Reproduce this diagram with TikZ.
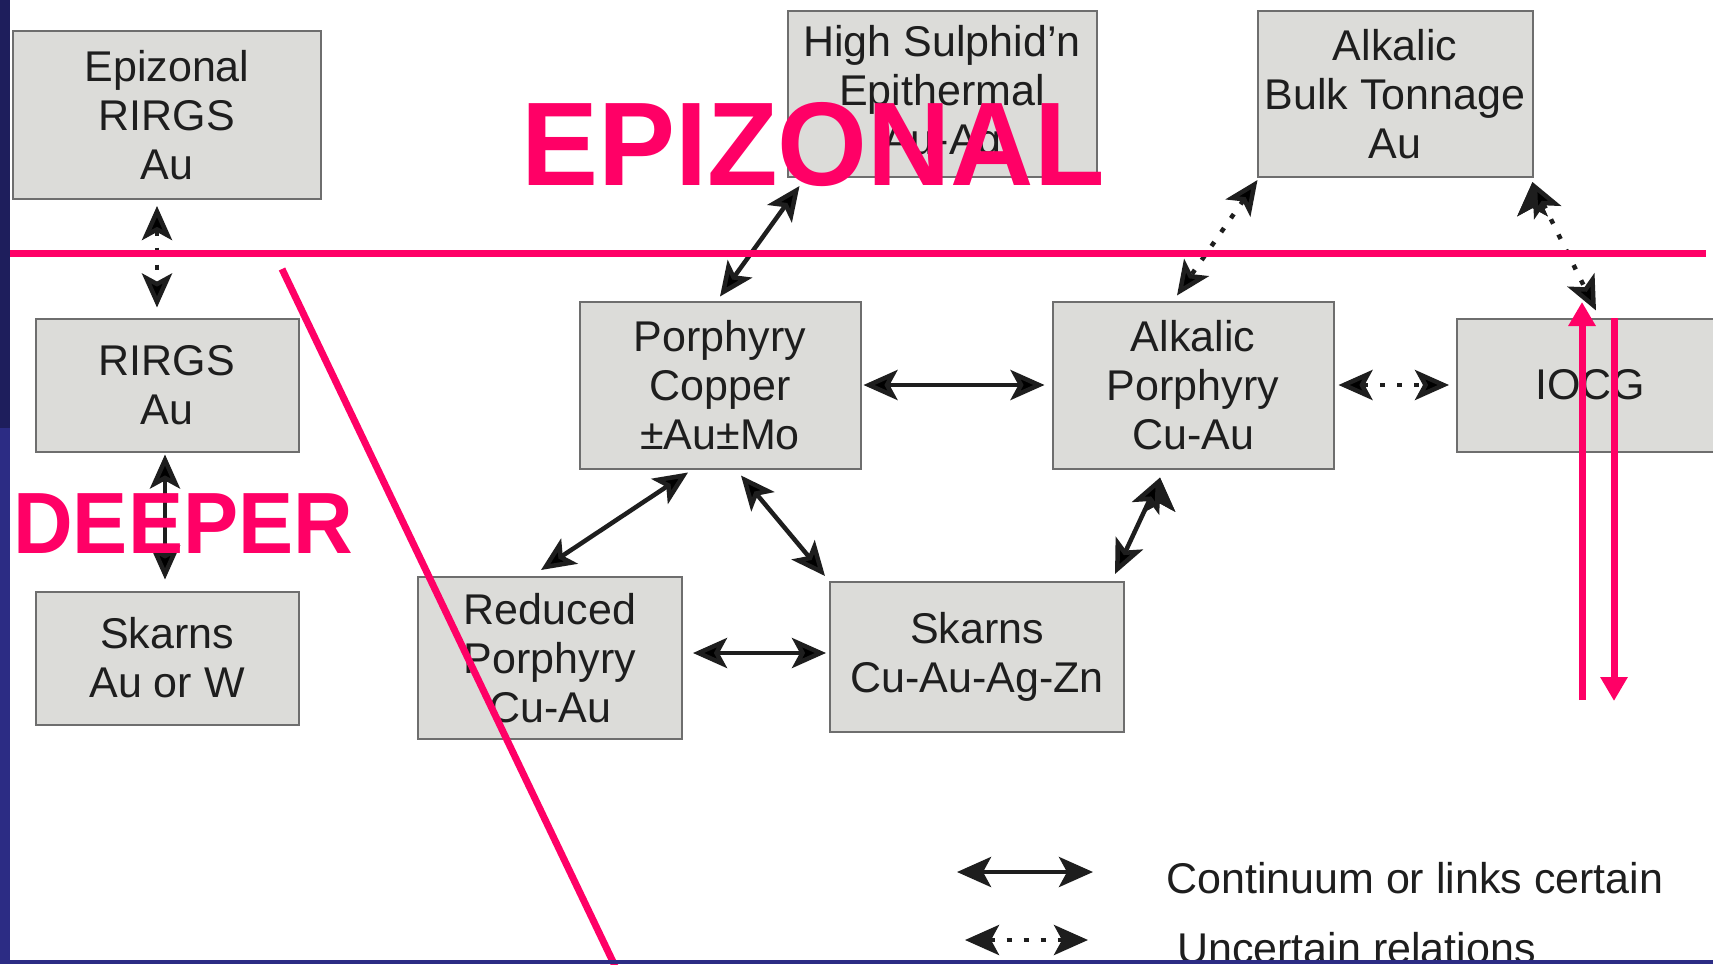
\documentclass[tikz,border=0pt]{standalone}
\usepackage{fontspec}
\setmainfont{Liberation Sans}
\usepackage{xcolor}
\usetikzlibrary{arrows.meta}
\definecolor{hotpink}{HTML}{FF0066}
\definecolor{boxgrey}{HTML}{DCDCD9}
\definecolor{edgegrey}{HTML}{6E6E6E}
\definecolor{inkgrey}{HTML}{1E1E1E}
\definecolor{navytop}{HTML}{1E1E5C}
\definecolor{navylow}{HTML}{2C2C84}

\begin{document}
\begin{tikzpicture}[x=1pt, y=-1pt,
  deposit/.style={rectangle, draw=edgegrey, line width=2pt, fill=boxgrey, text=inkgrey,
    align=center, inner sep=0pt, font=\fontsize{43}{49}\selectfont},
  legendtext/.style={anchor=base west, inner sep=0pt, text=inkgrey, font=\fontsize{43}{49}\selectfont},
  certain/.style={{Stealth[length=34pt,width=30pt,inset=8pt]}-{Stealth[length=34pt,width=30pt,inset=8pt]},
    line width=4.5pt, draw=inkgrey},
  uncertain/.style={certain, dash pattern=on 5pt off 12pt},
  redline/.style={draw=hotpink, line width=7pt},
  redarrow/.style={redline, -{Triangle[length=24pt,width=26pt]}},
  zonetext/.style={anchor=base west, inner sep=0pt, text=hotpink}]

  \useasboundingbox (0,0) rectangle (1713,964);
  \fill[white] (0,0) rectangle (1713,964);

  \node[deposit, minimum width=308pt, minimum height=168pt] (EZ) at (167,115) {Epizonal\\RIRGS\\Au};
  \node[deposit, minimum width=309pt, minimum height=166pt] (HS) at (942,94) {High Sulphid’n\\Epithermal\\Au-Ag};
  \node[deposit, minimum width=275pt, minimum height=166pt] (AB) at (1395,94) {Alkalic\\Bulk Tonnage\\Au};
  \node[deposit, minimum width=263pt, minimum height=133pt] (RG) at (167,385) {RIRGS\\Au};
  \node[deposit, minimum width=281pt, minimum height=167pt] (PC) at (720,385) {Porphyry\\Copper\\±Au±Mo};
  \node[deposit, minimum width=281pt, minimum height=167pt] (AP) at (1193,385) {Alkalic\\Porphyry\\Cu-Au};
  \node[deposit, minimum width=266pt, minimum height=133pt] (IO) at (1590,385) {IOCG};
  \node[deposit, minimum width=263pt, minimum height=133pt] (SW) at (167,658) {Skarns\\Au or W};
  \node[deposit, minimum width=264pt, minimum height=162pt] (RP) at (550,658) {Reduced\\Porphyry\\Cu-Au};
  \node[deposit, minimum width=294pt, minimum height=150pt] (SK) at (977,657) {Skarns\\Cu-Au-Ag-Zn};

  \node[legendtext] (LC) at (1166,893) {Continuum or links certain};
  \node[legendtext] (LU) at (1177,963) {Uncertain relations};

  \path[certain]
    ([xshift=-2pt,yshift=-2pt]RG.south) edge ([xshift=-2pt,yshift=11pt]SW.north)
    ([yshift=4pt]PC.north) edge ([xshift=13pt,yshift=-8pt]HS.south west)
    ([xshift=2pt]PC.east) edge ([xshift=-7pt]AP.west)
    ([xshift=-32pt,yshift=-3pt]PC.south) edge ([xshift=-9pt,yshift=6pt]RP.north)
    ([xshift=21pt,yshift=-6pt]PC.south) edge ([xshift=-4pt,yshift=5pt]SK.north west)
    ([xshift=10pt,yshift=5pt]RP.east) edge ([xshift=-3pt,yshift=4pt]SK.west)
    ([xshift=-33pt,yshift=-8pt]AP.south) edge ([xshift=-10pt,yshift=7pt]SK.north east);

  \path[uncertain]
    ([xshift=-10pt,yshift=-6pt]EZ.south) edge ([xshift=-10pt,yshift=10pt]RG.north)
    ([xshift=4pt]AP.east) edge ([xshift=-7pt]IO.west)
    ([xshift=1pt,yshift=-2pt]AB.south west) edge ([xshift=-16pt,yshift=5pt]AP.north)
    ([xshift=-1pt,yshift=-4pt]AB.south east) edge ([xshift=6pt,yshift=7pt]IO.north);

  \coordinate (k1) at (957,872);
  \coordinate (k2) at (1093,872);
  \coordinate (k3) at (965,940);
  \coordinate (k4) at (1088,940);
  \draw[certain] (k1) -- (k2);
  \draw[uncertain] (k3) -- (k4);

  % zone boundaries
  \coordinate (h1) at (10,253);
  \coordinate (h2) at (1706,253);
  \coordinate (d1) at (282,269);
  \coordinate (d2) at (615,966);
  \draw[redline] (h1) -- (h2);
  \draw[redline] (d1) -- (d2);

  \coordinate (u1) at (1582,700);
  \coordinate (u2) at (1582,302);
  \coordinate (w1) at (1614,318);
  \coordinate (w2) at (1614,701);
  \draw[redarrow] (u1) -- (u2);
  \draw[redarrow] (w1) -- (w2);

  \node[zonetext, font=\fontsize{119}{119}\selectfont\bfseries] (EPI) at (521,185) {\scalebox{0.97}[1]{EPIZONAL}};
  \node[zonetext, font=\fontsize{87}{87}\selectfont\bfseries] (DEEP) at (13,553) {\scalebox{0.95}[1]{DEEPER}};

  \fill[navytop] (0,0) rectangle (10,428);
  \fill[navylow] (0,428) rectangle (10,964);
  \fill[navylow] (0,960) rectangle (1713,964);

\end{tikzpicture}
\end{document}
